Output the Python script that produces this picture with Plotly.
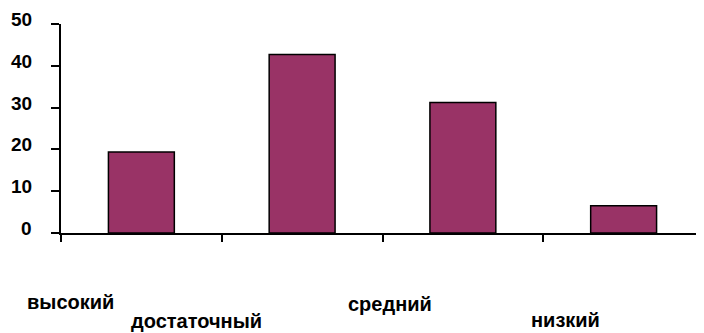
import plotly.graph_objects as go

# levels and shares (%)
categories = ["высокий", "достаточный", "средний", "низкий"]
values = [19.4, 42.7, 31.2, 6.5]
y_ticks = [0, 10, 20, 30, 40, 50]

# where each label sits (staggered like the original), paper coords
label_x = [0.014, 0.21, 0.512, 0.785]
label_y = [-0.33, -0.42, -0.34, -0.415]

fig = go.Figure(go.Bar(
    x=categories,
    y=values,
    width=0.41,
    marker=dict(color="#993366", line=dict(color="black", width=1.5)),
))

font = dict(family="Liberation Sans, Arial, sans-serif", size=20, color="black", weight="bold")

for name, lx, ly in zip(categories, label_x, label_y):
    fig.add_annotation(
        x=lx, y=ly, xref="paper", yref="paper",
        text=name, showarrow=False, font=font,
        xanchor="center", yanchor="middle",
    )

# y tick labels sit a bit above their ticks in the original
for t in y_ticks:
    fig.add_annotation(
        x=0, y=t, xref="paper", yref="y",
        text=str(t), showarrow=False,
        font=dict(family="Liberation Sans, Arial, sans-serif", size=19, color="black", weight="bold"),
        xanchor="right", yanchor="middle", xshift=-27, yshift=4.5,
    )

# page body adds an 8px margin, so the figure is 8px smaller on each side
fig.update_layout(
    width=696, height=325,
    margin=dict(l=53, r=0, t=16, b=100),
    plot_bgcolor="white",
    paper_bgcolor="white",
    showlegend=False,
    xaxis=dict(
        showticklabels=False,
        tickson="boundaries",
        ticks="outside",
        ticklen=7,
        tickcolor="black",
        tickwidth=1.5,
        showline=True,
        linecolor="black",
        linewidth=1.5,
        showgrid=False,
        range=[-0.5, 3.5],
        automargin=False,
    ),
    yaxis=dict(
        range=[0, 50],
        tickvals=y_ticks,
        showticklabels=False,
        ticks="outside",
        ticklen=8,
        tickcolor="black",
        tickwidth=1.5,
        showline=True,
        linecolor="black",
        linewidth=1.5,
        showgrid=False,
        zeroline=False,
        automargin=False,
    ),
)

fig.write_html("out.html")
